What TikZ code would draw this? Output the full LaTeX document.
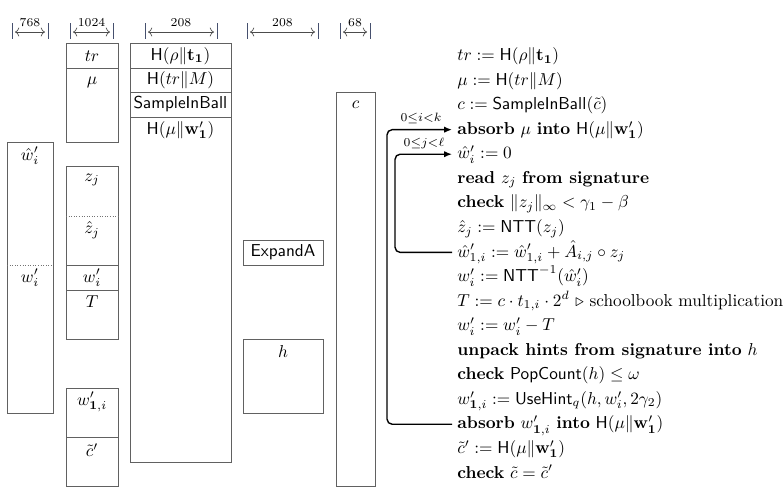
\documentclass[tikz,border=0pt]{standalone}
\usepackage{amsmath,amssymb}
\usetikzlibrary{arrows.meta}
\begin{document}
\begin{tikzpicture}[x=0.58pt,y=-0.58pt,
  box/.style={draw=black!62,line width=0.5pt},
  sepline/.style={draw=black!55,line width=0.5pt,densely dotted},
  cell/.style={inner sep=0pt,anchor=center},
  algline/.style={anchor=west,inner xsep=2.9pt,inner ysep=0pt,text height=1.5ex,text depth=.25ex},
  loopline/.style={line width=0.8pt,rounded corners=3pt,-{Latex[length=4.5pt,width=3.6pt]}},
  looplbl/.style={inner sep=0pt},
  dimbar/.style={draw={rgb,255:red,70;green,80;blue,110},line width=0.5pt},
  dimarr/.style={draw=black!70,line width=0.4pt,<->},
  dimlbl/.style={font=\scriptsize,inner sep=0pt}]
\useasboundingbox (0,0) rectangle (784,487);

% ---- width markers above the columns ----
\foreach \l/\r/\w [count=\k] in {12/48/768,70/113/1024,145/217/208,247/318/208,340/370/68}{
  \draw[dimbar] (\l,23) -- (\l,39);
  \draw[dimbar] (\r,23) -- (\r,39);
  \draw[dimarr] (\l+3,32) -- (\r-3,32);
  \node[dimlbl] (dim\k) at ({(\l+\r)/2},23) {\w};
}

% ---- column 1: w'_i buffer ----
\draw[box] (7,142) rectangle (53,413);
\draw[sepline] (7,265) -- (53,265);
\node[cell] (whw) at (30,156) {$\hat{w}'_i$};
\node[cell] (wpa) at (30,278) {$w'_i$};

% ---- column 2 ----
\draw[box] (66,43) rectangle (118,142);
\draw[box] (66,68) -- (118,68);
\node[cell] (tr) at (92,56) {$tr$};
\node[cell] (mu) at (92,82) {$\mu$};

\draw[box] (66,166) rectangle (118,339);
\draw[sepline] (66,216) -- (118,216);
\draw[box] (66,265) -- (118,265);
\draw[box] (66,290) -- (118,290);
\node[cell] (zj) at (92,180) {$z_j$};
\node[cell] (zh) at (92,230) {$\hat{z}_j$};
\node[cell] (wpb) at (92,278) {$w'_i$};
\node[cell] (tt) at (92,302) {$T$};

\draw[box] (66,388) rectangle (118,486);
\draw[box] (66,437) -- (118,437);
\node[cell] (w1i) at (92,402) {$w'_{\mathbf{1},i}$};
\node[cell] (ctp) at (92,450) {$\tilde{c}'$};

% ---- column 3: hash and sampler states ----
\draw[box] (130,43) rectangle (231,462);
\draw[box] (130,68) -- (231,68);
\draw[box] (130,92) -- (231,92);
\draw[box] (130,117) -- (231,117);
\node[cell] (hrho) at (180.5,56) {$\mathsf{H}(\rho\|\mathbf{t}_{\mathbf{1}})$};
\node[cell] (htr) at (180.5,80) {$\mathsf{H}(tr\|M)$};
\node[cell] (sib) at (180.5,104.5) {$\mathsf{SampleInBall}$};
\node[cell] (hmu) at (180.5,130) {$\mathsf{H}(\mu\|\mathbf{w}'_{\mathbf{1}})$};

% ---- column 4 ----
\draw[box] (243,240) rectangle (323,265);
\node[cell] (expa) at (283,252.5) {$\mathsf{ExpandA}$};
\draw[box] (243,339) rectangle (323,413);
\node[cell] (hh) at (283,351) {$h$};

% ---- column 5 ----
\draw[box] (336,92) rectangle (375,486);
\node[cell] (cc) at (355.5,105) {$c$};

% ---- verification steps ----
\foreach \t [count=\k] in {
  {$tr := \mathsf{H}(\rho\|\mathbf{t}_{\mathbf{1}})$},
  {$\mu := \mathsf{H}(tr\|M)$},
  {$c := \mathsf{SampleInBall}(\tilde{c})$},
  {\textbf{absorb} $\mu$ \textbf{into} $\mathsf{H}(\mu\|\mathbf{w}'_{\mathbf{1}})$},
  {$\hat{w}'_i := 0$},
  {\textbf{read} $z_j$ \textbf{from signature}},
  {\textbf{check} $\|z_j\|_\infty < \gamma_1 - \beta$},
  {$\hat{z}_j := \mathsf{NTT}(z_j)$},
  {$\hat{w}'_{1,i} := \hat{w}'_{1,i} + \hat{A}_{i,j} \circ z_j$},
  {$w'_i := \mathsf{NTT}^{-1}(\hat{w}'_i)$},
  {$T := c \cdot t_{1,i} \cdot 2^d$ $\triangleright$ schoolbook multiplication},
  {$w'_i := w'_i - T$},
  {\textbf{unpack hints from signature into} $h$},
  {\textbf{check} $\mathsf{PopCount}(h) \le \omega$},
  {$w'_{\mathbf{1},i} := \mathsf{UseHint}_q(h, w'_i, 2\gamma_2)$},
  {\textbf{absorb} $w'_{\mathbf{1},i}$ \textbf{into} $\mathsf{H}(\mu\|\mathbf{w}'_{\mathbf{1}})$},
  {$\tilde{c}' := \mathsf{H}(\mu\|\mathbf{w}'_{\mathbf{1}})$},
  {\textbf{check} $\tilde{c} = \tilde{c}'$}}{
  \node[algline] (l\k) at (452,{56+24.55*(\k-1)}) {\t};
}

% ---- loops ----
\coordinate (outer) at (387,0);
\coordinate (inner) at (395,0);
\draw[loopline] (l16.west) -- (l16.west -| outer) |- (l4.west);
\draw[loopline] (l9.west) -- (l9.west -| inner) |- (l5.west);
\node[looplbl] (ilbl) at (421,118) {$\scriptstyle 0\le i<k$};
\node[looplbl] (jlbl) at (424,143) {$\scriptstyle 0\le j<\ell$};
\end{tikzpicture}
\end{document}
